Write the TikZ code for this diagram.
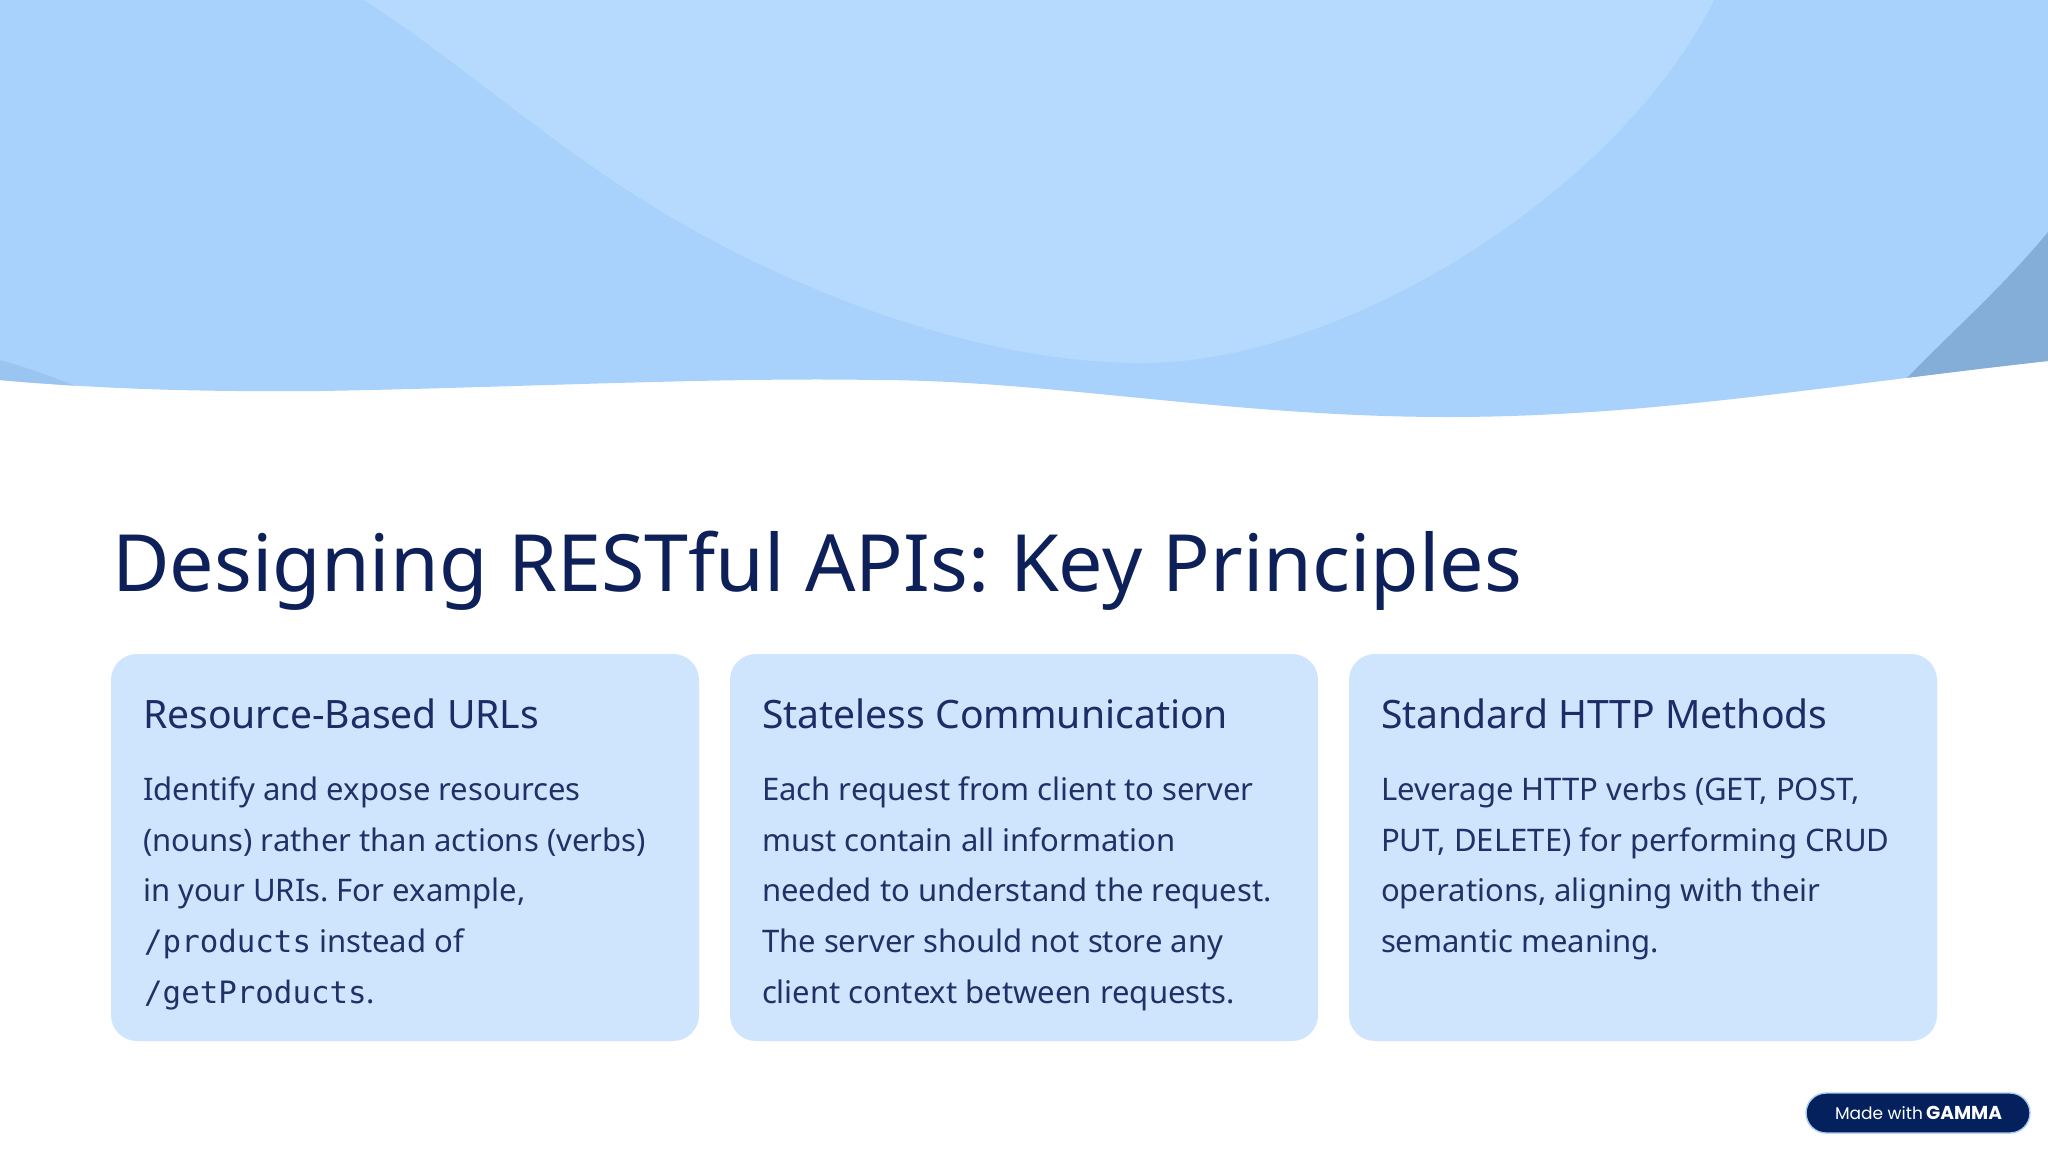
\documentclass[tikz,border=0pt]{standalone}
\usepackage{fontspec}
\usepackage{graphicx}
\setmainfont{Noto Sans}
\newfontfamily\monof{DejaVu Sans Mono}
\newfontfamily\badgef{Poppins}
\definecolor{wavebase}{HTML}{A8D2FC}
\definecolor{wavelight}{HTML}{B5DAFE}
\definecolor{wavedark}{HTML}{84ADD8}
\definecolor{waveleft}{HTML}{9AC5F0}
\definecolor{cardfill}{HTML}{CFE4FD}
\definecolor{titleink}{HTML}{0E2059}
\definecolor{headink}{HTML}{1A2D66}
\definecolor{bodyink}{HTML}{1F3268}
\definecolor{badgefill}{HTML}{04215E}
\definecolor{badgeedge}{HTML}{A9CBF2}
\tikzset{
  x=0.5pt,y=-0.5pt,
  line/.style={anchor=base west,inner sep=0pt,outer sep=0pt},
  titletext/.style={line,text=titleink,font=\frenchspacing\fontsize{39.5}{46}\selectfont},
  headtext/.style={line,text=headink,font=\frenchspacing\fontsize{19.55}{24}\selectfont},
  bodytext/.style={line,text=bodyink,font=\frenchspacing\fontsize{15.53}{18}\selectfont},
  card/.style={fill=cardfill,rounded corners=13pt},
}
\newcommand{\code}[1]{{\hspace{0.6pt}\monof\fontsize{15.4}{18}\selectfont #1}}
\begin{document}
\begin{tikzpicture}
\useasboundingbox (0,0) rectangle (2048,1152);
\fill[white] (0,0) rectangle (2048,1152);
% wave band
\path[save path=\wavepath] (0,380) .. controls (100,389) and (200,392) .. (320,391) .. controls (500,388) and (720,377) .. (874,380) .. controls (1050,380) and (1230,417) .. (1448,417) .. controls (1650,417) and (1830,385) .. (2048,361) -- (2048,0) -- (0,0) -- cycle;
\begin{scope}
\clip[use path=\wavepath];
\fill[wavebase] (0,0) rectangle (2048,1152);
\fill[wavelight] (364,0) .. controls (450,55) and (540,135) .. (638,197) .. controls (760,275) and (960,363) .. (1142,363) .. controls (1345,363) and (1620,190) .. (1714,0) -- cycle;
\fill[wavedark] (1906,379) .. controls (1950,333) and (2000,290) .. (2048,232) -- (2048,400) -- (1900,400) -- cycle;
\fill[waveleft] (0,360) .. controls (25,367) and (50,376) .. (76,386) -- (0,400) -- cycle;
\end{scope}
% cards
\fill[card] (111,654) rectangle (699,1041);
\fill[card] (730,654) rectangle (1318,1041);
\fill[card] (1349,654) rectangle (1937,1041);
% title
\node[titletext] (title) at (112,591) {Designing RESTful APIs: Key Principles};
% card 1
\node[headtext] (h1) at (143,728) {Resource-Based URLs};
\node[bodytext] (a1) at (143,800) {Identify and expose resources};
\node[bodytext] (a2) at (143,851) {(nouns) rather than actions (verbs)};
\node[bodytext] (a3) at (143,901) {in your URIs. For example,};
\node[bodytext] (a4) at (143,952) {\code{/products} instead of};
\node[bodytext] (a5) at (143,1003) {\code{/getProducts}.};
% card 2
\node[headtext] (h2) at (762,728) {Stateless Communication};
\node[bodytext] (b1) at (762,800) {Each request from client to server};
\node[bodytext] (b2) at (762,851) {must contain all information};
\node[bodytext] (b3) at (762,901) {needed to understand the request.};
\node[bodytext] (b4) at (762,952) {The server should not store any};
\node[bodytext] (b5) at (762,1003) {client context between requests.};
% card 3
\node[headtext] (h3) at (1381,728) {Standard HTTP Methods};
\node[bodytext] (c1) at (1381,800) {Leverage HTTP verbs (GET, POST,};
\node[bodytext] (c2) at (1381,851) {PUT, DELETE) for performing CRUD};
\node[bodytext] (c3) at (1381,901) {operations, aligning with their};
\node[bodytext] (c4) at (1381,952) {semantic meaning.};
% badge
\draw[fill=badgefill,draw=badgeedge,line width=0.7pt,rounded corners=10pt] (1806,1093) rectangle (2030,1133);
\node[line,text=white,font=\badgef\fontsize{8.5}{11}\selectfont] (made) at (1835,1119) {Made with};
\node[line,text=white,font=\badgef\bfseries\fontsize{9.2}{11}\selectfont] (gamma) at (1926,1119) {\resizebox{38pt}{!}{GAMMA}};
\end{tikzpicture}
\end{document}
